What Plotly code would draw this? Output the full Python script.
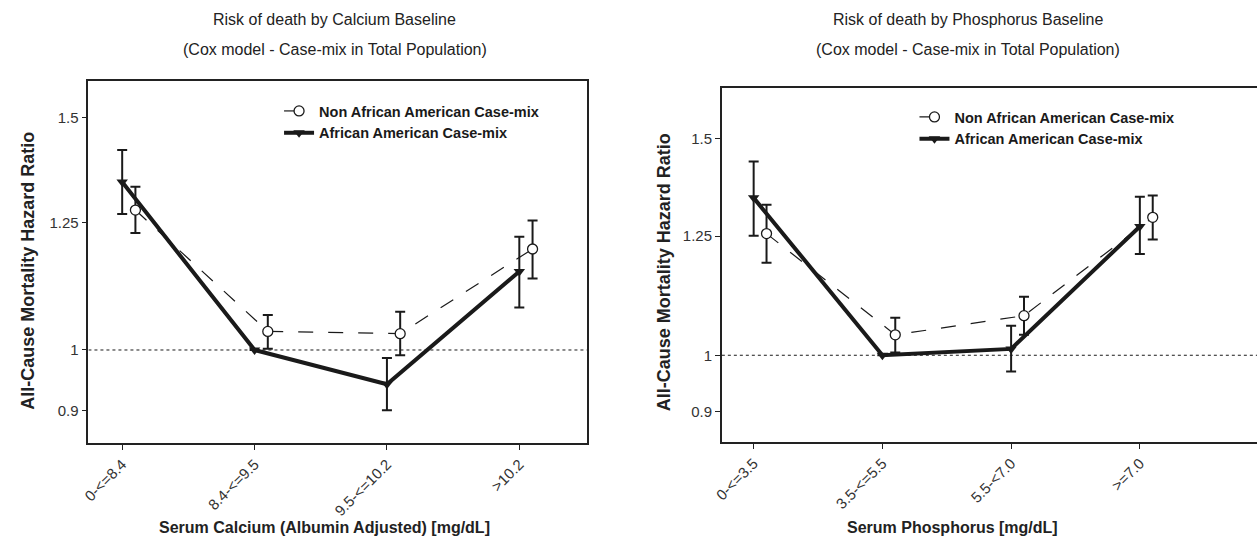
import plotly.graph_objects as go
import numpy as np

# ---------------- data ----------------
ca_categories = ["0-<=8.4", "8.4-<=9.5", "9.5-<=10.2", ">10.2"]
ca_nonaa = [1.277, 1.033, 1.029, 1.193]
ca_nonaa_hi = [1.330, 1.063, 1.069, 1.254]
ca_nonaa_lo = [1.227, 1.002, 0.991, 1.133]
ca_aa = [1.341, 1.000, 0.942, 1.147]
ca_aa_hi = [1.418, 1.000, 0.986, 1.219]
ca_aa_lo = [1.268, 1.000, 0.900, 1.077]

p_categories = ["0-<=3.5", "3.5-<=5.5", "5.5-<7.0", ">=7.0"]
p_nonaa = [1.256, 1.039, 1.077, 1.295]
p_nonaa_hi = [1.326, 1.073, 1.116, 1.349]
p_nonaa_lo = [1.189, 1.005, 1.039, 1.242]
p_aa = [1.343, 1.000, 1.012, 1.273]
p_aa_hi = [1.438, 1.000, 1.057, 1.346]
p_aa_lo = [1.251, 1.000, 0.970, 1.209]

y_ticks = [0.9, 1, 1.25, 1.5]
y_tick_labels = ["0.9", "1", "1.25", "1.5"]

FONT = "Liberation Sans, Arial, sans-serif"
INK = "#1a1a1a"
W, H = 1257, 540

fig = go.Figure()

def add_panel(cats, nonaa, nhi, nlo, aa, ahi, alo, xa, ya, legend, xrange):
    idx = np.arange(len(cats))
    fig.add_trace(go.Scatter(x=list(xrange), y=[1, 1], mode="lines",
                             line=dict(color=INK, width=1, dash="dot"),
                             showlegend=False, hoverinfo="skip", xaxis=xa, yaxis=ya))
    nx = idx + 0.1
    fig.add_trace(go.Scatter(
        x=nx, y=nonaa, mode="lines+markers", name="Non African American Case-mix",
        line=dict(color=INK, width=1.2, dash="longdash"),
        marker=dict(symbol="circle", size=10, color="white", line=dict(color=INK, width=1.3)),
        error_y=dict(type="data", symmetric=False,
                     array=[h - v for h, v in zip(nhi, nonaa)],
                     arrayminus=[v - l for l, v in zip(nlo, nonaa)],
                     color=INK, thickness=2, width=5),
        xaxis=xa, yaxis=ya, legend=legend))
    fig.add_trace(go.Scatter(
        x=idx, y=aa, mode="lines+markers", name="African American Case-mix",
        line=dict(color=INK, width=4),
        marker=dict(symbol="triangle-down", size=10, color=INK),
        error_y=dict(type="data", symmetric=False,
                     array=[h - v for h, v in zip(ahi, aa)],
                     arrayminus=[v - l for l, v in zip(alo, aa)],
                     color=INK, thickness=2, width=5),
        xaxis=xa, yaxis=ya, legend=legend))

left_xrange = [-0.255, 3.51]
right_xrange = [-0.247, 3.91]

add_panel(ca_categories, ca_nonaa, ca_nonaa_hi, ca_nonaa_lo, ca_aa, ca_aa_hi, ca_aa_lo,
          "x", "y", "legend", left_xrange)
add_panel(p_categories, p_nonaa, p_nonaa_hi, p_nonaa_lo, p_aa, p_aa_hi, p_aa_lo,
          "x2", "y2", "legend2", right_xrange)

def px_dom_x(a, b):
    return [a / W, b / W]

def px_dom_y(top, bottom):
    return [(H - bottom) / H, (H - top) / H]

axis_common = dict(showgrid=False, zeroline=False, showline=True, linecolor="#222",
                   linewidth=1.6, ticks="outside", ticklen=5, tickcolor="#222", tickwidth=1,
                   tickfont=dict(family=FONT, size=15, color="#333"))

legend_font = dict(family=FONT, size=14.5, color=INK, weight="bold")

fig.update_layout(
    width=W, height=H, margin=dict(l=0, r=0, t=0, b=0),
    paper_bgcolor="white", plot_bgcolor="white",
    font=dict(family=FONT, color=INK),
    xaxis=dict(domain=px_dom_x(80, 582), anchor="y", range=left_xrange,
               tickmode="array", tickvals=list(range(4)), ticktext=ca_categories,
               tickangle=-45, mirror=True, **axis_common),
    yaxis=dict(domain=px_dom_y(81, 443), anchor="x", type="log",
               range=[np.log10(0.85), np.log10(1.6)],
               tickmode="array", tickvals=y_ticks, ticktext=y_tick_labels,
               mirror=True, **axis_common),
    xaxis2=dict(domain=px_dom_x(718, 1257), anchor="y2", range=right_xrange,
                tickmode="array", tickvals=list(range(4)), ticktext=p_categories,
                tickangle=-45, mirror=True, **axis_common),
    yaxis2=dict(domain=px_dom_y(88, 442), anchor="x2", type="log",
                range=[np.log10(0.85), np.log10(1.65)],
                tickmode="array", tickvals=y_ticks, ticktext=y_tick_labels,
                mirror=False, **axis_common),
    legend=dict(x=272 / W, y=(H - 95) / H, xanchor="left", yanchor="top",
                bgcolor="rgba(0,0,0,0)", font=legend_font, tracegroupgap=0, itemwidth=30),
    legend2=dict(x=912 / W, y=(H - 101) / H, xanchor="left", yanchor="top",
                 bgcolor="rgba(0,0,0,0)", font=legend_font, tracegroupgap=0, itemwidth=30),
    showlegend=True,
)

annots = [
    dict(text="Risk of death by Calcium Baseline", x=328 / W, y=(H - 19) / H, size=16, bold=False),
    dict(text="(Cox model - Case-mix in Total Population)", x=328 / W, y=(H - 49) / H, size=16, bold=False),
    dict(text="Risk of death by Phosphorus Baseline", x=966 / W, y=(H - 19) / H, size=16, bold=False),
    dict(text="(Cox model - Case-mix in Total Population)", x=966 / W, y=(H - 49) / H, size=16, bold=False),
    dict(text="Serum Calcium (Albumin Adjusted) [mg/dL]", x=318 / W, y=(H - 527) / H, size=16, bold=True),
    dict(text="Serum Phosphorus [mg/dL]", x=950 / W, y=(H - 527) / H, size=16, bold=True),
]
for a in annots:
    fig.add_annotation(text=a["text"], x=a["x"], y=a["y"], xref="paper", yref="paper",
                       xanchor="center", yanchor="middle", showarrow=False,
                       font=dict(family=FONT, size=a["size"], color="#222",
                                 weight="bold" if a["bold"] else "normal"))

for xpos, ypos in [(19, 271), (660, 272)]:
    fig.add_annotation(text="All-Cause Mortality Hazard Ratio", x=xpos / W, y=(H - ypos) / H,
                       xref="paper", yref="paper", xanchor="center", yanchor="middle",
                       textangle=-90, showarrow=False,
                       font=dict(family=FONT, size=18, color="#222", weight="bold"))

fig.write_html("out.html")
